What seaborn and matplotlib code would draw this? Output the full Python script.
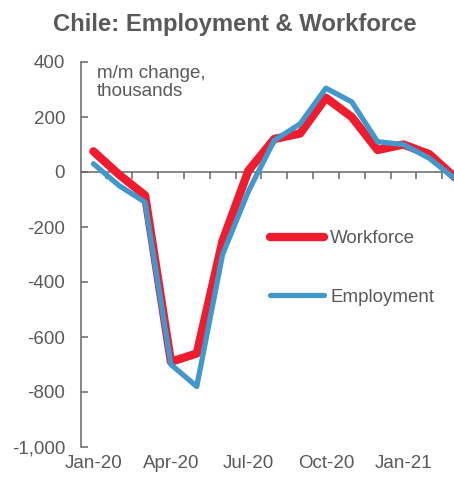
import pandas as pd
import matplotlib
matplotlib.use("Agg")
import matplotlib.pyplot as plt
from matplotlib.ticker import FuncFormatter
import seaborn as sns

# 데이터 (천 명, 전월 대비 변화)
months = ["Jan-20", "Feb-20", "Mar-20", "Apr-20", "May-20", "Jun-20", "Jul-20", "Aug-20",
          "Sep-20", "Oct-20", "Nov-20", "Dec-20", "Jan-21", "Feb-21", "Mar-21"]
workforce = [75, -10, -85, -690, -660, -250, 5, 120, 140, 270, 200, 80, 100, 65, -20]
employment = [30, -50, -110, -700, -780, -300, -70, 115, 175, 305, 255, 110, 100, 50, -25]
tick_labels = ["Jan-20", "Apr-20", "Jul-20", "Oct-20", "Jan-21"]

df = pd.DataFrame({"idx": range(len(months)), "month": months,
                   "Workforce": workforce, "Employment": employment})

sns.set_style("white")
plt.rcParams['font.family'] = ['Liberation Sans', 'DejaVu Sans']
gray = "#595959"
axis_gray = "#666666"
red = "#EE1C2E"
blue = "#4298CB"

fig = plt.figure(figsize=(4.54, 4.79), dpi=100)
ax = fig.add_axes([80.5 / 454, 1 - 447 / 479, 387.5 / 454, 385 / 479])

sns.lineplot(data=df, x="idx", y="Workforce", color=red, linewidth=6, ax=ax,
             label="Workforce", solid_joinstyle="round", solid_capstyle="round")
sns.lineplot(data=df, x="idx", y="Employment", color=blue, linewidth=3.8, ax=ax,
             label="Employment", solid_joinstyle="round", solid_capstyle="round")

ax.set_xlim(-0.5, 14.5)
ax.set_ylim(-1000, 400)
ax.set_xlabel("")
ax.set_ylabel("")

# y축
ax.set_yticks(range(-1000, 401, 200))
ax.yaxis.set_major_formatter(FuncFormatter(lambda v, p: f"{v:,.0f}"))
ax.tick_params(axis="y", direction="in", length=5, width=1.1, color=axis_gray,
               labelsize=13.5, labelcolor=gray, pad=11, left=True)
for s in ["top", "right", "bottom"]:
    ax.spines[s].set_visible(False)
ax.spines["left"].set_color(axis_gray)
ax.spines["left"].set_linewidth(1.1)

# x축 라벨 (아래쪽)
ax.set_xticks([0, 3, 6, 9, 12])
ax.set_xticklabels(tick_labels)
ax.tick_params(axis="x", length=0, labelsize=13.5, labelcolor=gray, pad=6)

# 0 기준선 + 월 구분 눈금 (아래 방향)
zero = ax.secondary_xaxis(1000 / 1400)
for s in zero.spines.values():
    s.set_color(axis_gray)
    s.set_linewidth(1.1)
zero.set_xticks([k - 0.5 for k in range(1, 16)])
zero.tick_params(axis="x", direction="in", length=5, width=1.1, color=axis_gray,
                 labelbottom=False, labeltop=False)

ax.text(97 / 454, 1 - 65 / 479, "m/m change,\nthousands", transform=fig.transFigure,
        fontsize=13.5, color=gray, va="top", ha="left", linespacing=1.1)

fig.text(53 / 454, 1 - 25 / 479, "Chile: Employment & Workforce", fontsize=17.2,
         fontweight="bold", color=gray, va="center", ha="left")

leg = ax.legend(loc="center left", bbox_to_anchor=(270 / 454, 1 - 268 / 479),
                bbox_transform=fig.transFigure, frameon=False, fontsize=13.5,
                handlelength=2.9, handletextpad=0.3, labelspacing=2.2,
                borderpad=0, borderaxespad=0)
for t in leg.get_texts():
    t.set_color(gray)

fig.savefig("out.png", dpi=100)
